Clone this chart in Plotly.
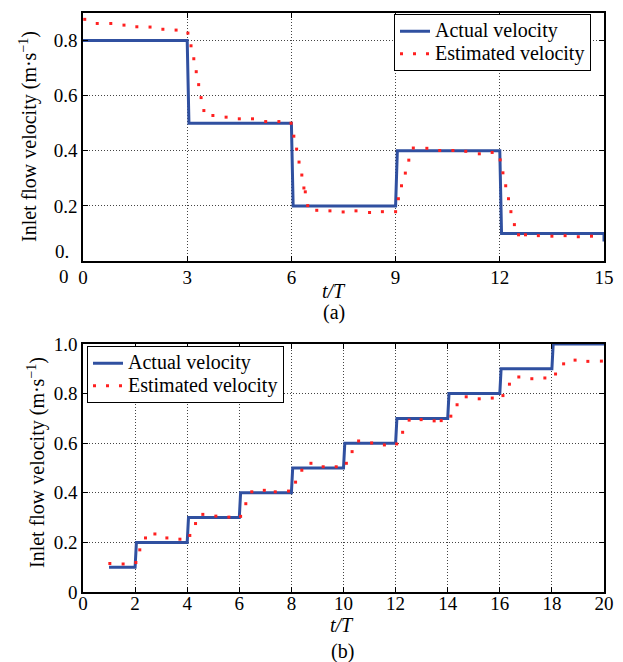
import plotly.graph_objects as go

# ---------------- data (a) ----------------
act_t_a = [0, 3, 3.05, 6, 6.05, 9, 9.05, 12, 12.05, 15, 15]
act_v_a = [0.8, 0.8, 0.5, 0.5, 0.2, 0.2, 0.4, 0.4, 0.1, 0.1, 0.071]

est_t_a = [0.05, 0.41, 0.80, 1.18, 1.55, 1.93, 2.30, 2.68, 3.02, 3.11, 3.19, 3.26,
           3.33, 3.40, 3.48, 3.74, 4.12, 4.50, 4.88, 5.26, 5.64, 5.99, 6.07, 6.15,
           6.22, 6.30, 6.36, 6.40, 6.47, 6.73, 7.11, 7.49, 7.86, 8.25, 8.62, 9.00,
           9.08, 9.17, 9.28, 9.38, 9.51, 9.90, 10.27, 10.65, 11.02, 11.41, 11.78,
           12.01, 12.09, 12.17, 12.25, 12.32, 12.42, 12.54, 12.74, 13.11, 13.50,
           13.88, 14.26, 14.64]
est_v_a = [0.877, 0.862, 0.862, 0.856, 0.850, 0.849, 0.841, 0.838, 0.827, 0.781,
           0.734, 0.687, 0.640, 0.593, 0.546, 0.528, 0.522, 0.516, 0.516, 0.506,
           0.506, 0.500, 0.453, 0.406, 0.359, 0.312, 0.265, 0.251, 0.201, 0.184,
           0.182, 0.178, 0.182, 0.176, 0.179, 0.179, 0.226, 0.273, 0.319, 0.366,
           0.410, 0.409, 0.401, 0.401, 0.398, 0.389, 0.394, 0.367, 0.320, 0.273,
           0.226, 0.179, 0.132, 0.095, 0.095, 0.092, 0.090, 0.092, 0.088, 0.090]

# ---------------- data (b) ----------------
act_t_b = [1, 2, 2.05, 4, 4.05, 6, 6.05, 8, 8.05, 10, 10.05, 12, 12.05, 14, 14.05,
           16, 16.05, 18, 18.05, 20]
act_v_b = [0.1, 0.1, 0.2, 0.2, 0.3, 0.3, 0.4, 0.4, 0.5, 0.5, 0.6, 0.6, 0.7, 0.7,
           0.8, 0.8, 0.9, 0.9, 1.0, 1.0]

est_t_b = [1.03, 1.54, 2.03, 2.18, 2.40, 2.76, 3.22, 3.72, 4.10, 4.32, 4.60, 5.10,
           5.60, 6.05, 6.25, 6.48, 6.96, 7.38, 7.89, 8.16, 8.40, 8.75, 9.22, 9.72,
           10.11, 10.33, 10.58, 11.08, 11.57, 12.04, 12.27, 12.52, 12.98, 13.48,
           13.75, 14.12, 14.36, 14.71, 15.21, 15.71, 16.12, 16.37, 16.73, 17.23,
           17.73, 18.14, 18.45, 18.89, 19.38, 19.90]
est_v_b = [0.115, 0.113, 0.119, 0.170, 0.218, 0.234, 0.218, 0.213, 0.228, 0.276,
           0.313, 0.306, 0.302, 0.305, 0.356, 0.404, 0.410, 0.404, 0.407, 0.443,
           0.491, 0.519, 0.505, 0.505, 0.519, 0.566, 0.609, 0.601, 0.593, 0.597,
           0.644, 0.693, 0.695, 0.690, 0.691, 0.709, 0.755, 0.787, 0.779, 0.782,
           0.792, 0.838, 0.867, 0.860, 0.863, 0.879, 0.920, 0.935, 0.930, 0.931]

xticks_a = [0, 3, 6, 9, 12, 15]
yticks_a = [0.2, 0.4, 0.6, 0.8]
xticks_b = [0, 2, 4, 6, 8, 10, 12, 14, 16, 18, 20]
yticks_b = [0, 0.2, 0.4, 0.6, 0.8, 1.0]
yticktext_b = ["0", "0.2", "0.4", "0.6", "0.8", "1.0"]

names = ["Actual velocity", "Estimated velocity"]

# ---------------- layout helpers ----------------
W, H = 623, 662
ML, MR, MT, MB = 83, 19, 13, 70
PW, PH = W - ML - MR, H - MT - MB


def px_x(px):
    return (px - ML) / PW


def px_y(py):
    return (H - MB - py) / PH


BLUE = "#3050a0"
RED = "#ff2020"
FONT = "'Liberation Serif', 'Times New Roman', Times, serif"


def leg(name):
    return f'<span style="font-size:20px">{name}</span>'


fig = go.Figure()

# panel (a)
fig.add_trace(go.Scatter(x=act_t_a, y=act_v_a, mode="lines", name=leg(names[0]),
                         line=dict(color=BLUE, width=3), xaxis="x", yaxis="y",
                         legend="legend"))
fig.add_trace(go.Scatter(x=est_t_a, y=est_v_a, mode="markers", name=names[1],
                         marker=dict(color=RED, size=3, symbol="square", line=dict(width=0)),
                         xaxis="x", yaxis="y", showlegend=False))
fig.add_trace(go.Scatter(x=[None], y=[None], mode="lines", name=leg(names[1]),
                         line=dict(color=RED, width=3, dash="3px,10px"),
                         xaxis="x", yaxis="y", legend="legend"))

# panel (b)
fig.add_trace(go.Scatter(x=act_t_b, y=act_v_b, mode="lines", name=leg(names[0]),
                         line=dict(color=BLUE, width=3), xaxis="x2", yaxis="y2",
                         legend="legend2"))
fig.add_trace(go.Scatter(x=est_t_b, y=est_v_b, mode="markers", name=names[1],
                         marker=dict(color=RED, size=3, symbol="square", line=dict(width=0)),
                         xaxis="x2", yaxis="y2", showlegend=False))
fig.add_trace(go.Scatter(x=[None], y=[None], mode="lines", name=leg(names[1]),
                         line=dict(color=RED, width=3, dash="3px,10px"),
                         xaxis="x2", yaxis="y2", legend="legend2"))

axis_common = dict(showline=True, linecolor="black", linewidth=1.5, mirror="ticks",
                   ticks="inside", ticklen=5, tickcolor="black", tickwidth=1,
                   showgrid=True, gridcolor="#444", gridwidth=1, griddash="1px,2px",
                   zeroline=False, tickfont=dict(family=FONT, size=19, color="black"))

top_dom = [px_y(261), 1.0]
bot_dom = [0.0, px_y(344)]

legend_common = dict(xanchor="left", yanchor="top", bgcolor="white",
                     bordercolor="black", borderwidth=1, tracegroupgap=0,
                     font=dict(family=FONT, size=15, color="black"))

fig.update_layout(
    width=W, height=H,
    margin=dict(l=ML, r=MR, t=MT, b=MB, autoexpand=False),
    paper_bgcolor="white", plot_bgcolor="white",
    font=dict(family=FONT, size=19, color="black"),
    xaxis=dict(domain=[0, 1], anchor="y", range=[0, 15], tickvals=xticks_a,
               ticklabelstandoff=-2, **axis_common),
    yaxis=dict(domain=top_dom, anchor="x", range=[0, 0.9], tickvals=yticks_a,
               ticktext=[f"{v:.1f}" for v in yticks_a], **axis_common),
    xaxis2=dict(domain=[0, 1], anchor="y2", range=[0, 20], tickvals=xticks_b,
                ticklabelstandoff=-7, **axis_common),
    yaxis2=dict(domain=bot_dom, anchor="x2", range=[0, 1.0], tickvals=yticks_b,
                ticktext=yticktext_b, **axis_common),
    legend=dict(x=px_x(394), y=px_y(14), **legend_common),
    legend2=dict(x=px_x(87), y=px_y(346), **legend_common),
    showlegend=True,
)

ytitle = "Inlet flow velocity (m·s<sup>−1</sup>)"
ann = [
    dict(text=ytitle, x=px_x(29), y=px_y(137), textangle=-90),
    dict(text=ytitle, x=px_x(36), y=px_y(463), textangle=-90),
    dict(text="<i>t/T</i>", x=px_x(334), y=px_y(291)),
    dict(text="(a)", x=px_x(334), y=px_y(312)),
    dict(text="<i>t/T</i>", x=px_x(342), y=px_y(625)),
    dict(text="(b)", x=px_x(342), y=px_y(651)),
    dict(text="0.", x=px_x(71), y=px_y(252), xanchor="right", size=19),
    dict(text="0", x=px_x(64), y=px_y(276), size=19),
]
for a in ann:
    size = a.pop("size", 20)
    a.update(xref="paper", yref="paper", showarrow=False,
             font=dict(family=FONT, size=size, color="black"))
    a.setdefault("xanchor", "center")
    a["yanchor"] = "middle"
fig.update_layout(annotations=ann)

fig.write_html("out.html", config={"displayModeBar": False},
               post_script="document.body.style.margin='0';document.body.style.padding='0';")
